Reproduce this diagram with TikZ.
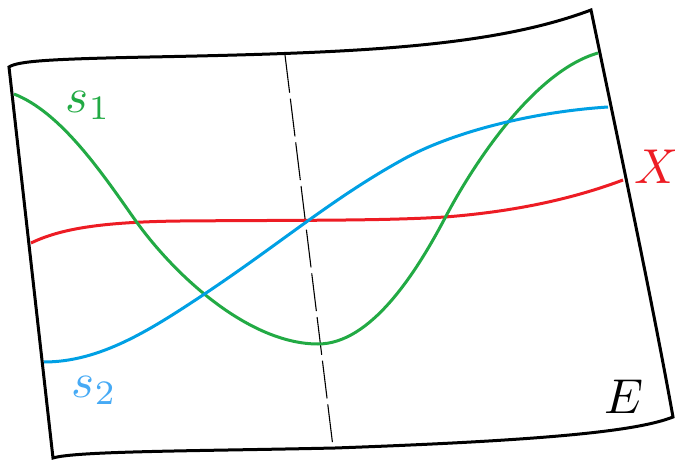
\documentclass[tikz,border=0pt]{standalone}
\definecolor{cgreen}{RGB}{34,170,68}
\definecolor{cblue}{RGB}{0,160,228}
\definecolor{clblue}{RGB}{70,170,245}
\definecolor{cred}{RGB}{237,28,36}
\tikzset{
  frame/.style={line width=3pt, line join=miter},
  curve/.style={line width=3pt},
  fibre/.style={line width=1.1pt, dash pattern=on 38pt off 6pt},
  lbl/.style={inner sep=0pt, anchor=base west, scale=4.9}
}
\begin{document}
\begin{tikzpicture}[x=1pt,y=-1pt]
\useasboundingbox (0,0) rectangle (675,460);
% frame
\coordinate (tl) at (9,67);
\coordinate (tr) at (591,10);
\coordinate (br) at (673,417);
\coordinate (bl) at (53,458);
\draw[frame] (tl) .. controls (18,61) and (50,59) .. (150,57)
  .. controls (350,53) and (490,48) .. (tr)
  .. controls (620,150) and (652,300) .. (br)
  .. controls (640,430) and (560,440) .. (335,448)
  .. controls (200,451) and (75,451) .. (bl)
  -- cycle;
% fibre
\coordinate (ft) at (285,55);
\coordinate (fb) at (333,447);
\draw[fibre] (ft) -- (fb);
% curves
\draw[curve, cred] (31,243) .. controls (60,229) and (100,222) .. (180,221)
  .. controls (300,220) and (380,221) .. (445,217)
  .. controls (510,212) and (570,200) .. (623,180);
\draw[curve, cgreen] (14,94) .. controls (60,112) and (100,170) .. (133,217)
  .. controls (175,277) and (250,344) .. (318,344)
  .. controls (370,344) and (415,275) .. (445,218)
  .. controls (475,161) and (535,71) .. (598,53);
\draw[curve, cblue] (44,362) .. controls (100,362) and (150,330) .. (200,297)
  .. controls (280,244) and (330,200) .. (402,160)
  .. controls (450,133) and (530,112) .. (608,107);
% labels
\node[lbl, text=cgreen] (s1) at (65,112) {$s_1$};
\node[lbl, text=clblue] (s2) at (71,397) {$s_2$};
\node[lbl, text=cred] (X) at (634,183) {$X$};
\node[lbl] (E) at (604,413) {$E$};
\end{tikzpicture}
\end{document}
